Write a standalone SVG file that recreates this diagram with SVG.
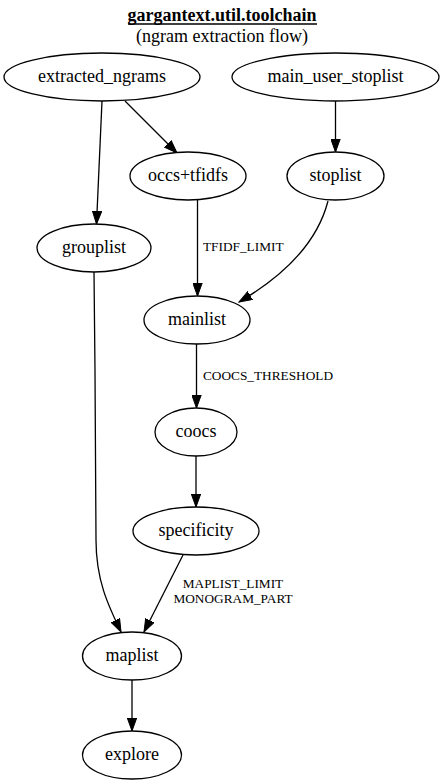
<svg xmlns="http://www.w3.org/2000/svg" width="445" height="784" viewBox="0 0 445 784">
<style>
.nb{fill:#fff;stroke:#000;stroke-width:1.3}
.nt{font-family:"Liberation Serif","Times New Roman",serif;font-size:18px;text-anchor:middle;fill:#000}
.e path{fill:none;stroke:#000;stroke-width:1.3;marker-end:url(#ah)}
.lbl{font-family:"Liberation Serif","Times New Roman",serif;font-size:13.3px;fill:#000}
.title{font-family:"Liberation Serif","Times New Roman",serif;font-size:18px;text-anchor:middle;fill:#000}
</style>
<defs>
<marker id="ah" markerUnits="userSpaceOnUse" markerWidth="14" markerHeight="10" refX="13" refY="5" orient="auto">
<path d="M0,0.3 L13,5 L0,9.7 z" fill="#000" stroke="#000" stroke-width="1"/>
</marker>
</defs>
<rect width="445" height="784" fill="#fff"/>
<g id="title">
<text class="title" x="222" y="21" font-weight="bold">gargantext.util.toolchain</text>
<line x1="128" y1="24" x2="317" y2="24" stroke="#000" stroke-width="1.3"/>
<text class="title" x="222" y="41.5">(ngram extraction flow)</text>
</g>
<g id="edges" class="e">
<path d="M102,101 L96.5,224"/>
<path d="M125,101 L177,153"/>
<path d="M335.5,101 L335.5,152"/>
<path d="M197.5,200 L197.5,296"/>
<path d="M328,201 C318,240 287,274 239,302"/>
<path d="M196.5,344 L196.5,408"/>
<path d="M196,456 L196,507"/>
<path d="M94,272 C95,360 96,480 96,540 C96,580 108,605 121,632"/>
<path d="M183,555 L144,632"/>
<path d="M132,680 L132,731"/>
</g>
<g id="edge-labels">
<text class="lbl" x="203" y="251">TFIDF_LIMIT</text>
<text class="lbl" x="203" y="380">COOCS_THRESHOLD</text>
<text class="lbl" x="233" y="588" text-anchor="middle">MAPLIST_LIMIT</text>
<text class="lbl" x="233" y="603" text-anchor="middle">MONOGRAM_PART</text>
</g>
<g id="extracted_ngrams"><ellipse class="nb" cx="102" cy="77" rx="98" ry="24"/><text class="nt" x="102" y="82">extracted_ngrams</text></g>
<g id="main_user_stoplist"><ellipse class="nb" cx="335.5" cy="77" rx="103.5" ry="24"/><text class="nt" x="335.5" y="82">main_user_stoplist</text></g>
<g id="occs_tfidfs"><ellipse class="nb" cx="188" cy="176" rx="58" ry="24"/><text class="nt" x="188" y="181">occs+tfidfs</text></g>
<g id="stoplist"><ellipse class="nb" cx="335.5" cy="176" rx="48.5" ry="24"/><text class="nt" x="335.5" y="181">stoplist</text></g>
<g id="grouplist"><ellipse class="nb" cx="94" cy="248" rx="57" ry="24"/><text class="nt" x="94" y="253">grouplist</text></g>
<g id="mainlist"><ellipse class="nb" cx="197" cy="320" rx="53" ry="24"/><text class="nt" x="197" y="325">mainlist</text></g>
<g id="coocs"><ellipse class="nb" cx="196" cy="432" rx="41" ry="24"/><text class="nt" x="196" y="437">coocs</text></g>
<g id="specificity"><ellipse class="nb" cx="196" cy="531" rx="63" ry="24"/><text class="nt" x="196" y="536">specificity</text></g>
<g id="maplist"><ellipse class="nb" cx="132" cy="656" rx="49.5" ry="24"/><text class="nt" x="132" y="661">maplist</text></g>
<g id="explore"><ellipse class="nb" cx="132" cy="755" rx="49.5" ry="24"/><text class="nt" x="132" y="760">explore</text></g>
</svg>
